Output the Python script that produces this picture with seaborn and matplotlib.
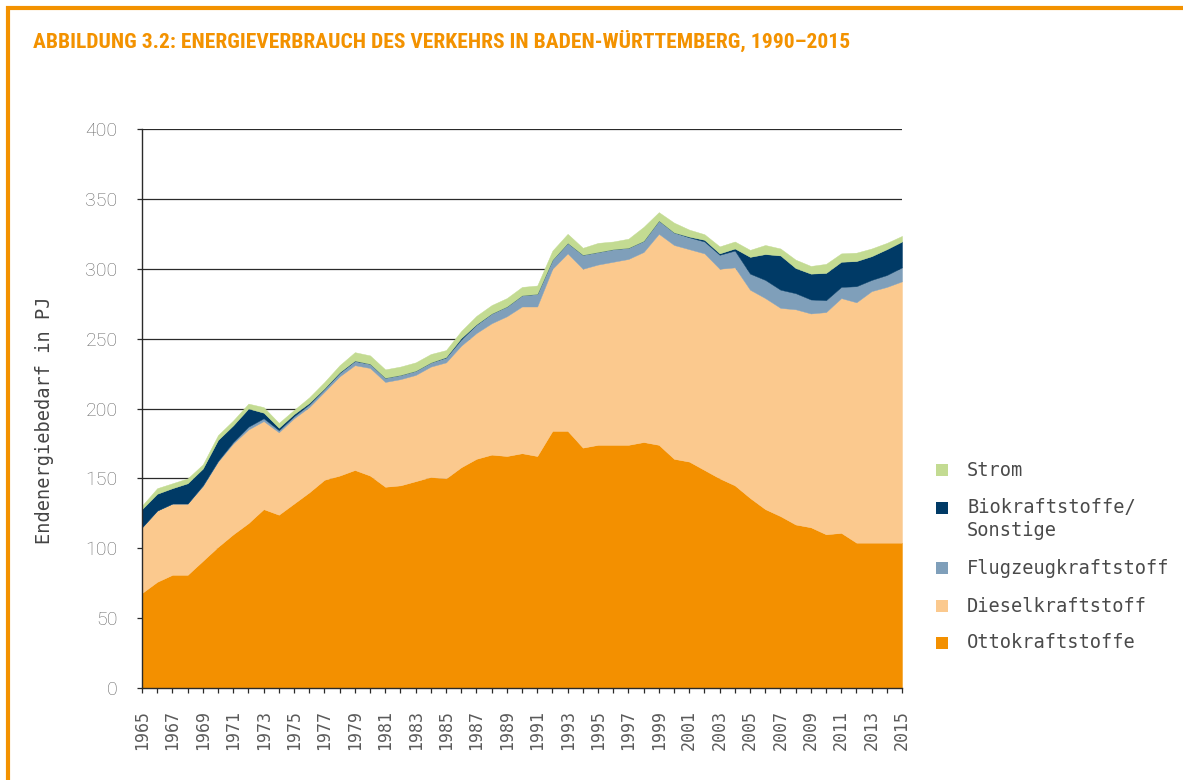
import numpy as np
import pandas as pd
import matplotlib
matplotlib.use("Agg")
import matplotlib.pyplot as plt
import seaborn as sns
from matplotlib import font_manager as fm
from matplotlib.patches import Rectangle
from matplotlib.lines import Line2D

# ---------------- data ----------------
years = list(range(1965, 2016))
otto = [68, 76, 81, 81, 91, 101, 110, 118, 128, 124,
        132, 140, 149, 152, 156, 152, 144, 145, 148, 151,
        150, 158, 164, 167, 166, 168, 166, 184, 184, 172,
        174, 174, 174, 176, 174, 164, 162, 156, 150, 145,
        136, 128, 123, 117, 115, 110, 111, 104, 104, 104,
        104]
diesel = [47, 51, 51, 51, 53.5, 61, 65, 67, 63, 59,
          61, 61, 63, 71, 75, 77, 75, 76, 76, 79,
          83, 87, 90, 94, 100, 105, 107, 116, 127, 128,
          129, 131, 133, 136, 151, 153, 152, 155, 150, 156,
          149, 151, 149, 154, 153, 159, 168, 172, 180, 183,
          187]
flug = [0, 0, 0, 0, 0.5, 0.5, 1, 2, 2, 1.5,
        1.5, 2, 2, 2.5, 3, 3, 3, 3, 3, 3,
        3.5, 4.5, 6, 7, 7, 8, 9, 6.5, 7.5, 10,
        9, 9, 8, 8, 9.5, 9, 8.5, 8.5, 10, 12,
        11.5, 13, 13, 11.5, 10, 8.5, 8, 11.5, 8, 8.5,
        10]
bio = [13, 12, 11, 14.5, 12, 15, 12, 13, 4, 1.7,
       1.5, 1, 0.5, 0.5, 0.3, 0, 0, 0, 0, 0,
       0.3, 1, 0.3, 0, 0, 0, 0, 0, 0, 0,
       0, 0, 0, 0, 0, 0, 0.5, 1.2, 1, 1.5,
       12, 18.5, 24.5, 18, 18.5, 19.5, 18, 18, 17, 18.5,
       18.5]
strom = [2.5, 4, 3.5, 3.5, 3, 3.5, 3.5, 3.5, 4, 3.5,
         3, 4, 4.5, 5, 6, 6, 6, 6, 6, 6,
         5, 5, 6, 6, 6, 6, 6, 6.5, 6.5, 5,
         6.5, 5.5, 6.5, 10, 6, 7, 5, 4, 5, 5,
         5, 6.5, 5, 6, 5.5, 6.5, 6, 6, 5.5, 4.5,
         4]
series_names = ["Ottokraftstoffe", "Dieselkraftstoff", "Flugzeugkraftstoff",
                "Biokraftstoffe/\nSonstige", "Strom"]
y_ticks = [0, 50, 100, 150, 200, 250, 300, 350, 400]
x_tick_labels = [str(y) if (y - 1965) % 2 == 0 else "" for y in years]
title = "ABBILDUNG 3.2: ENERGIEVERBRAUCH DES VERKEHRS IN BADEN-WÜRTTEMBERG, 1990–2015"
y_label = "Endenergiebedarf in PJ"

# ---------------- style ----------------
colors = sns.color_palette(["#F39000", "#FBC98E", "#7F9FBA", "#003A66", "#C3DB92"])
ORANGE = "#F39200"
sns.set_theme(style="ticks")
plt.rcParams["font.family"] = ["DejaVu Sans"]

avail = {f.name for f in fm.fontManager.ttflist}
cond = next((f for f in ["Roboto Condensed", "Liberation Sans Narrow", "Open Sans Condensed"]
             if f in avail), None)
mono = "DejaVu Sans Mono"

W, H = 1183, 780
fig = plt.figure(figsize=(W / 100, H / 100), dpi=100)


def fx(px):
    return px / W


def fy(py):
    return 1 - py / H


ax = fig.add_axes([fx(142), fy(688), fx(902) - fx(142), fy(129) - fy(688)])

df = pd.DataFrame({series_names[0]: otto, series_names[1]: diesel,
                   series_names[2]: flug, series_names[3]: bio,
                   series_names[4]: strom}, index=years)

base = np.zeros(len(years))
for name, col in zip(series_names, colors):
    top = base + df[name].values
    ax.fill_between(df.index, base, top, facecolor=col, edgecolor=col,
                    linewidth=0.3, zorder=2)
    base = top

ax.set_xlim(1965, 2015)
ax.set_ylim(0, 400)
ax.set_yticks(y_ticks)
ax.set_xticks(years)
ax.set_xticklabels(x_tick_labels)
for yv in y_ticks[1:]:
    ax.axhline(yv, color="#2a2a2a", lw=0.9, zorder=1)

for s in ["top", "right"]:
    ax.spines[s].set_visible(False)
for s in ["left", "bottom"]:
    ax.spines[s].set_color("#2a2a2a")
    ax.spines[s].set_linewidth(1.0)
    ax.spines[s].set_zorder(3)

ax.tick_params(axis="y", direction="out", length=3.6, width=0.9, color="#2a2a2a",
               pad=14, labelsize=14, labelcolor="#666666")
ax.tick_params(axis="x", direction="out", length=3.6, width=0.9, color="#2a2a2a",
               pad=12, labelsize=12, labelcolor="#5a5a5a", labelrotation=90)
for lab in ax.get_yticklabels():
    lab.set_fontfamily(["Roboto", "DejaVu Sans"])
    lab.set_fontweight("light")
for lab in ax.get_xticklabels():
    lab.set_fontfamily([mono])

ax.set_ylabel(y_label, fontsize=13.4, color="#444444", family=[mono])
ax.yaxis.set_label_coords((45 - 142) / 760, (688 - 420) / 559)
ax.yaxis.label.set_va("center")

# ---------------- frame ----------------
fig.add_artist(Line2D([fx(6), fx(W)], [fy(8), fy(8)], color=ORANGE, lw=3.0,
                      transform=fig.transFigure, solid_capstyle="butt"))
fig.add_artist(Line2D([fx(8), fx(8)], [fy(6), fy(H)], color=ORANGE, lw=3.0,
                      transform=fig.transFigure, solid_capstyle="butt"))

# ---------------- title ----------------
tkw = dict(color=ORANGE, fontweight="bold", va="baseline", ha="left")
if cond:
    tkw["family"] = [cond, "DejaVu Sans"]
else:
    tkw["family"] = ["DejaVu Sans"]
    tkw["fontstretch"] = "condensed"
t = fig.text(fx(33), fy(48), title, fontsize=16, **tkw)
r = fig.canvas.get_renderer()
w = t.get_window_extent(r).width
t.set_fontsize(16 * 812 / w)

# ---------------- legend ----------------
legend_rows = [("Strom", 4, 470, 470), ("Biokraftstoffe/\nSonstige", 3, 508, 519),
               ("Flugzeugkraftstoff", 2, 568, 568), ("Dieselkraftstoff", 1, 606, 606),
               ("Ottokraftstoffe", 0, 643, 643)]
for label, idx, ysq, ytxt in legend_rows:
    fig.add_artist(Rectangle((fx(936), fy(ysq + 6)), 12 / W, 12 / H,
                             transform=fig.transFigure, facecolor=colors[idx],
                             edgecolor="none"))
    fig.text(fx(967), fy(ytxt), label, fontsize=13.4, color="#4a4a4a", family=[mono],
             va="center", ha="left", linespacing=1.24)

fig.savefig("out.png", dpi=100)
